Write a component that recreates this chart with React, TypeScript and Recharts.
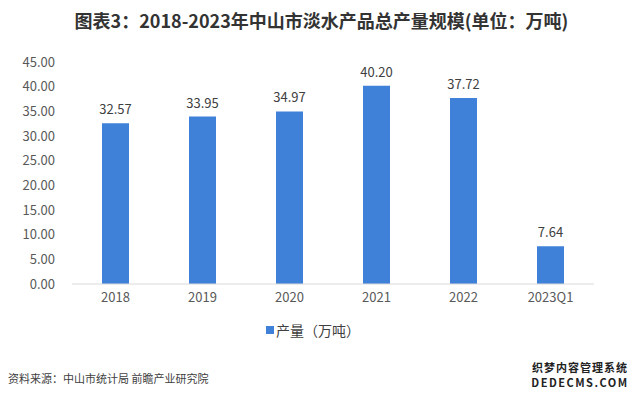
import React from "react";
import { BarChart, Bar, XAxis, YAxis, LabelList } from "recharts";

const categories = ["2018", "2019", "2020", "2021", "2022", "2023Q1"];
const production = [32.57, 33.95, 34.97, 40.2, 37.72, 7.64];
const yTicks = [0, 5, 10, 15, 20, 25, 30, 35, 40, 45];

const data = categories.map((c, i) => ({ year: c, value: production[i] }));

const FONT = '"Noto Sans CJK SC", "Microsoft YaHei", sans-serif';
const BAR = "#3f80d8";

export default function App() {
  return (
    <div
      style={{
        position: "absolute",
        left: 0,
        top: 0,
        width: 643,
        height: 397,
        background: "#fff",
        fontFamily: FONT,
        overflow: "hidden",
      }}
    >
      <div
        style={{
          position: "absolute",
          top: 7,
          left: 0,
          width: 643,
          textAlign: "center",
          fontSize: 18,
          fontWeight: 700,
          color: "#333",
          lineHeight: "26px",
        }}
      >
        图表3：2018-2023年中山市淡水产品总产量规模(单位：万吨)
      </div>
      <div style={{ position: "absolute", left: 0, top: 0 }}>
        <BarChart
          width={643}
          height={397}
          data={data}
          margin={{ top: 62, right: 49, left: 12, bottom: 83 }}
          barSize={27}
        >
          <XAxis
            dataKey="year"
            tickLine={false}
            axisLine={{ stroke: "#d9d9d9" }}
            tick={{ fill: "#595959", fontSize: 13, fontFamily: FONT }}
            height={30}
            tickSize={0}
            tickMargin={9}
          />
          <YAxis
            width={60}
            domain={[0, 45]}
            ticks={yTicks}
            interval={0}
            axisLine={false}
            tickLine={false}
            tickSize={0}
            tickMargin={17}
            tickFormatter={(v: number) => v.toFixed(2)}
            tick={{ fill: "#595959", fontSize: 13, fontFamily: FONT }}
          />
          <Bar dataKey="value" fill={BAR} isAnimationActive={false}>
            <LabelList
              dataKey="value"
              position="top"
              offset={9}
              formatter={(v: number) => v.toFixed(2)}
              style={{ fill: "#404040", fontSize: 13, fontFamily: FONT }}
            />
          </Bar>
        </BarChart>
      </div>
      <div
        style={{
          position: "absolute",
          left: 266,
          top: 320,
          display: "flex",
          alignItems: "center",
          fontSize: 14,
          color: "#404040",
        }}
      >
        <span
          style={{
            display: "inline-block",
            width: 8,
            height: 8,
            background: BAR,
            marginRight: 2,
          }}
        />
        产量（万吨）
      </div>
      <div
        style={{
          position: "absolute",
          left: 8,
          top: 370,
          fontSize: 11,
          color: "#404040",
        }}
      >
        资料来源：中山市统计局 前瞻产业研究院
      </div>
      <div
        style={{
          position: "absolute",
          left: 527,
          top: 361,
          width: 106,
          fontSize: 11,
          fontWeight: 700,
          color: "#222",
          lineHeight: "13px",
          height: 13,
          textAlign: "center",
          letterSpacing: 1,
          whiteSpace: "nowrap",
        }}
      >
        织梦内容管理系统
      </div>
      <div
        style={{
          position: "absolute",
          left: 527,
          top: 376,
          width: 106,
          fontSize: 11,
          fontWeight: 700,
          color: "#222",
          lineHeight: "13px",
          height: 13,
          textAlign: "center",
          letterSpacing: 1.5,
          whiteSpace: "nowrap",
        }}
      >
        DEDECMS.COM
      </div>
    </div>
  );
}
